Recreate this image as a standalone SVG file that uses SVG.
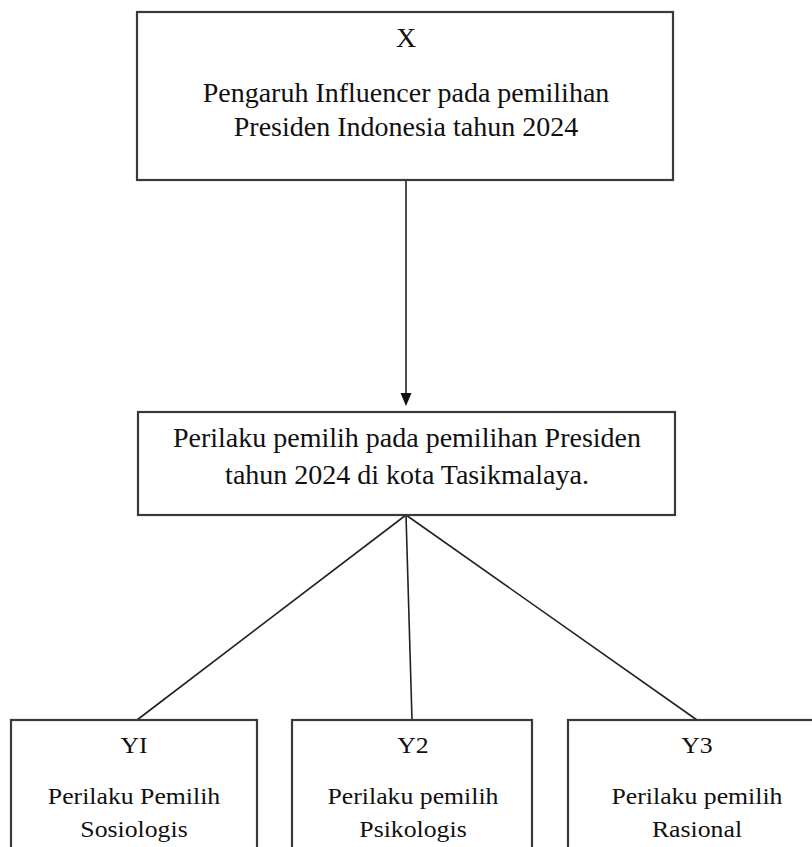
<svg xmlns="http://www.w3.org/2000/svg" width="812" height="847" viewBox="0 0 812 847">
<style>
.box{fill:#fff;stroke:#3a3a3a;stroke-width:2.2}
.t{font-family:"Liberation Serif","Times New Roman",serif;fill:#111;text-anchor:middle}
.big{font-size:28px}
.sm{font-size:23px}
.ln{stroke:#222;stroke-width:1.6;fill:none}
</style>
<rect width="812" height="847" fill="#fff"/>
<g id="connectors">
<line class="ln" x1="406" y1="180" x2="406" y2="394"/>
<path d="M400.5,393 L411.5,393 L406,406 Z" fill="#111"/>
<line class="ln" x1="406" y1="515" x2="137" y2="720"/>
<line class="ln" x1="406" y1="515" x2="412" y2="720"/>
<line class="ln" x1="406" y1="515" x2="697" y2="720"/>
</g>
<g id="node-x">
<rect class="box" x="137" y="12" width="536" height="168"/>
<text class="t big" x="406" y="47">X</text>
<text class="t big" x="406" y="102">Pengaruh Influencer pada pemilihan</text>
<text class="t big" x="406" y="136">Presiden Indonesia tahun 2024</text>
</g>
<g id="node-perilaku">
<rect class="box" x="138" y="412" width="537" height="103"/>
<text class="t big" x="407" y="447">Perilaku pemilih pada pemilihan Presiden</text>
<text class="t big" x="407" y="484">tahun 2024 di kota Tasikmalaya.</text>
</g>
<g id="node-y1">
<rect class="box" x="11" y="720" width="246" height="140"/>
<g transform="translate(134 0) scale(1.12 1)">
<text class="t sm" x="0" y="753">YI</text>
<text class="t sm" x="0" y="804">Perilaku Pemilih</text>
<text class="t sm" x="0" y="837">Sosiologis</text>
</g>
</g>
<g id="node-y2">
<rect class="box" x="292" y="720" width="240" height="140"/>
<g transform="translate(413 0) scale(1.12 1)">
<text class="t sm" x="0" y="753">Y2</text>
<text class="t sm" x="0" y="804">Perilaku pemilih</text>
<text class="t sm" x="0" y="837">Psikologis</text>
</g>
</g>
<g id="node-y3">
<rect class="box" x="568" y="720" width="260" height="140"/>
<g transform="translate(697 0) scale(1.12 1)">
<text class="t sm" x="0" y="753">Y3</text>
<text class="t sm" x="0" y="804">Perilaku pemilih</text>
<text class="t sm" x="0" y="837">Rasional</text>
</g>
</g>
</svg>
